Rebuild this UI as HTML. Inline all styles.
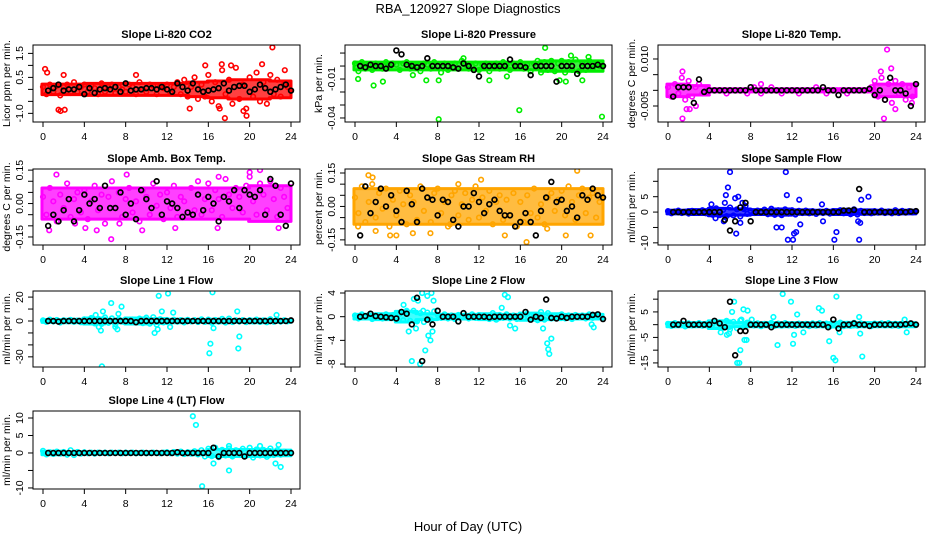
<!DOCTYPE html>
<html><head><meta charset="utf-8"><style>
body{margin:0;background:#fff;}
svg{display:block;font-family:"Liberation Sans",sans-serif;}
</style></head><body>
<svg id="c" width="936" height="540" viewBox="0 0 936 540">
<text x="468" y="13" text-anchor="middle" font-size="13">RBA_120927  Slope Diagnostics</text>
<text x="468" y="531" text-anchor="middle" font-size="13">Hour of Day (UTC)</text>
</svg>
<script>
const xTicks=[0,4,8,12,16,20,24];
const titles=["Slope Li-820 CO2","Slope Li-820 Pressure","Slope Li-820 Temp.","Slope Amb. Box Temp.","Slope Gas Stream RH","Slope Sample Flow","Slope Line 1 Flow","Slope Line 2 Flow","Slope Line 3 Flow","Slope Line 4 (LT) Flow"];
const yTitles=["Licor ppm per min.","kPa per min.","degrees C per min.","degrees C per min.","percent per min.","ml/min per min.","ml/min per min.","ml/min per min.","ml/min per min.","ml/min per min."];
const yTicks1=[-1.0,-0.5,0,0.5,1.0,1.5]; const yLabels1=["-1.0","","","0.5","","1.5"];
const yTicks2=[0.01,0,-0.01,-0.02,-0.03,-0.04]; const yLabels2=["","","-0.01","","","-0.04"];
const yTicks3=[0.010,0.005,0,-0.005]; const yLabels3=["0.010","","","-0.005"];
const yTicks4=[0.15,0.10,0.05,0,-0.05,-0.10,-0.15]; const yLabels4=["0.15","","","0.00","","","-0.15"];
const yTicks5=[0.15,0.10,0.05,0,-0.05,-0.10,-0.15]; const yLabels5=["0.15","","","0.00","","","-0.15"];
const yTicks6=[10,5,0,-5,-10]; const yLabels6=["","5","0","","-10"];
const yTicks7=[20,10,0,-10,-20,-30]; const yLabels7=["20","","0","","","-30"];
const yTicks8=[4,0,-4,-8]; const yLabels8=["4","0","-4","-8"];
const yTicks9=[10,5,0,-5,-10,-15]; const yLabels9=["","5","","-5","","-15"];
const yTicks10=[10,5,0,-5,-10]; const yLabels10=["10","5","0","","-10"];
const yLims=[[-1.36,1.85],[-0.0431,0.0162],[-0.0101,0.01446],[-0.186,0.155],[-0.173,0.168],[-10.7,14],[-38.5,25.1],[-8.5,4.34],[-16.6,13.2],[-10.3,12]];
const colors=["#ff0000","#00ee00","#ff00ff","#ff00ff","#ffa500","#0000ff","#00ffff","#00ffff","#00ffff","#00ffff"];

const band1=[0.22,0.22,0.25,0.25,0.25,0.25,0.25,0.3,0.35,0.4,0.4,0.35];
const band2=[0.003,0.003,0.003,0.003,0.003,0.003,0.003,0.003,0.003,0.004,0.004,0.004];
const band3=[0.002,0.0015,0.0005,0.0005,0.0005,0.0005,0.0005,0.0005,0.0005,0.0005,0.002,0.002];
const band4=[0.07,0.07,0.07,0.07,0.07,0.07,0.07,0.07,0.07,0.07,0.08,0.08];
const band5=[0.08,0.08,0.08,0.08,0.08,0.08,0.08,0.08,0.08,0.08,0.08,0.08];
const band6=[0.6,0.8,1.2,1.0,0.8,1.0,0.7,0.6,0.8,0.7,0.6,0.6];
const band7=[1.2,1.5,2.5,1.5,2.5,2.0,1.5,1.2,1.5,1.2,1.5,1.2];
const band8=[0.4,0.5,0.9,0.5,0.4,0.4,0.5,0.4,0.6,0.5,0.4,0.4];
const band9=[0.8,0.8,1.5,0.8,0.8,0.8,0.8,0.8,0.9,0.8,0.8,0.8];
const band10=[0.5,0.4,0.3,0.3,0.3,0.3,0.3,0.5,1.0,1.0,1.0,0.8];

const col1=[0.1,-0.2,0.2,-0.1,0.15,-0.25,0.1,0.2,-0.15,0.3,-0.1,0.1,0.2,-0.1,0.15,0.05,-0.2,0.25,-0.1,0.1,0.2,-0.15,0.1,0.0,-0.1,0.2,0.1,-0.2,0.3,0.0,-0.1,0.2,0.15,-0.2,0.1,0.05,0.2,-0.15,0.1,0.3,-0.2,0.4,-0.3,0.1,0.5,-0.4,0.2,-0.3,0.6,-0.5,0.3,-0.7,0.8,-0.2,0.4,-0.6,0.9,-0.4,0.2,-0.8,0.5,-0.3,0.7,-0.5,0.3,-0.6,0.6,-0.2,0.4,-0.3,0.2,0.1];
const out1=[[0.2,0.85],[0.4,0.7],[1.5,-0.85],[1.7,-0.9],[2.1,-0.85],[2.0,0.6],[9,0.6],[14.2,-0.8],[15.7,1.0],[17.3,1.05],[17.6,-1.2],[18.2,1.0],[19.7,-1.1],[21.2,1.05],[22.2,1.75],[23.4,0.8],[17.1,-0.8],[19.4,-0.9]];
const blk1=[-0.05,0.05,0.2,-0.05,0,0,0.1,-0.2,0.05,-0.15,0,0.05,0,0.1,-0.1,0.25,-0.05,0,0,0.05,0.05,0,0.1,0,-0.1,0.25,0.1,-0.05,0.25,0,-0.1,-0.05,0,0.05,0.25,-0.05,0.1,0.15,0.15,-0.1,0,0.2,0.05,-0.1,0,0.1,0.2,-0.05];

const col2=[0.002,-0.004,0.003,-0.002,0.001,-0.003,0.002,0.000,-0.002,0.003,-0.001,0.002,0.001,-0.003,0.002,0.003,-0.002,0.001,0.000,-0.004,0.002,0.001,-0.002,0.003,0.000,-0.005,0.002,-0.003,0.001,0.002,-0.002,0.004,0.001,-0.002,0.000,0.002,-0.003,0.001,0.002,-0.004,0.000,0.002,-0.002,0.003,0.001,-0.003,0.002,0.000,0.003,-0.002,0.001,-0.004,0.002,0.004,-0.005,0.003,-0.003,0.004,-0.004,0.002,0.004,-0.005,0.003,-0.003,0.005,-0.004,0.002,-0.003,0.004,-0.002,0.001,0.000];
const out2=[[1.8,-0.015],[2.7,-0.012],[8.1,-0.041],[8.1,-0.011],[15.9,-0.034],[18.4,0.014],[23.9,-0.039],[6.9,-0.011],[20.9,0.008],[22.6,0.007],[0.3,-0.01],[10.5,0.006],[19.8,-0.011],[20.4,-0.012],[22.0,-0.011],[13.0,-0.011],[14.7,-0.008],[5.6,-0.007]];
const blk2=[0.000,-0.001,0.001,0.000,0.000,-0.002,0.001,0.012,0.009,0.001,0.000,-0.001,0.000,0.006,0.000,0.000,0.000,0.000,-0.001,-0.002,0.002,0.000,-0.003,-0.008,0.000,0.000,0.000,0.000,0.000,0.005,0.000,0.000,-0.001,-0.007,0.000,0.000,0.000,0.000,-0.012,0.000,0.000,0.000,-0.006,0.000,0.000,0.000,0.001,0.000];

const col3=[0.001,-0.002,0.002,-0.001,0.004,-0.003,0.003,-0.002,0.001,0.002,-0.001,0.000,0,0,0,0,0,-0.001,0,0,0,0,0,-0.001,0,0.001,0,-0.001,0,0,0.001,0,0,-0.001,0,0,0,0,-0.001,0,0,0,0,0.001,0,0,-0.001,0,0,0,0,0,-0.001,0,0,0,0,0,0,0.001,0.003,-0.002,0.004,-0.003,0.002,-0.004,0.003,-0.001,0.002,-0.003,0.001,-0.002];
const out3=[[1.4,0.006],[1.4,-0.009],[1.8,-0.006],[2.1,-0.006],[2.7,-0.005],[20.9,-0.009],[21.2,0.013],[21.6,0.007],[20.6,0.006],[22.0,-0.006],[23.6,-0.004],[9.0,0.002]];
const blk3=[-0.002,0.001,0.001,0.001,-0.004,0.0035,-0.0005,0,0,0,0,0,0,0,0,0.001,0,0,0,0,0,0,0,0,0,0,0,0,0,0.001,0,0,-0.0015,0,0,0,0,0,0.0005,-0.0015,0,-0.003,0.004,0,0,-0.001,-0.005,0.002];

const col4=[0.03,-0.05,0.07,0.01,-0.08,0.04,-0.02,0.09,-0.06,0.02,0.05,-0.04,0.06,-0.07,0.01,0.08,-0.03,0.04,-0.09,0.03,0.10,-0.02,0.05,-0.06,0.02,0.07,-0.04,0.01,-0.08,0.06,0.03,-0.05,0.09,-0.01,0.04,-0.07,0.05,-0.02,0.08,-0.06,0.03,0.01,-0.04,0.07,-0.03,0.10,-0.05,0.02,0.09,-0.03,0.06,0.02,-0.06,0.11,0.04,-0.02,0.07,0.03,-0.04,0.08,0.12,0.01,-0.05,0.09,0.04,-0.03,0.10,0.02,-0.06,0.07,0.03,-0.02];
const out4=[[1.3,0.13],[0.6,-0.12],[6.6,-0.16],[5.2,-0.12],[8.1,0.13],[9.6,-0.12],[12.8,-0.11],[17,0.12],[16.9,-0.11],[20,0.14],[21,0.15],[22.8,-0.11],[3.1,-0.09],[4.1,-0.11],[7.4,-0.09]];
const blk4=[-0.1,-0.05,-0.08,-0.03,0.02,-0.08,-0.03,0.04,0.0,0.02,-0.02,0.08,-0.02,-0.02,0.05,-0.05,0.0,-0.07,0.06,0.02,-0.02,0.1,-0.05,0.01,0.0,-0.02,-0.06,-0.04,-0.05,0.04,-0.03,0.03,0.0,-0.08,0.03,0.01,0.06,-0.02,0.06,0.04,0.03,0.06,-0.05,0.11,0.08,-0.05,-0.1,0.09];

const col5=[0.04,-0.03,0.09,-0.07,0.02,0.10,-0.05,0.06,-0.01,0.08,-0.09,0.03,-0.04,0.07,0.01,-0.08,0.05,0.02,-0.06,0.09,-0.02,0.04,-0.07,0.06,0.08,-0.03,0.02,-0.09,0.05,0.07,-0.04,0.01,0.06,-0.06,0.03,0.09,-0.05,0.04,-0.02,0.07,-0.08,0.02,0.05,-0.06,0.03,-0.04,0.06,-0.09,0.02,-0.07,0.05,-0.03,0.08,-0.05,0.01,-0.08,0.04,0.06,-0.02,0.03,0.07,-0.04,0.09,0.02,-0.06,0.05,0.08,-0.03,0.04,0.06,-0.05,0.02];
const out5=[[1.3,0.14],[1.7,0.13],[0.3,-0.09],[2.0,-0.11],[3.4,-0.13],[4.0,-0.13],[7.3,-0.12],[5.6,-0.12],[10,0.1],[12.2,0.12],[14.5,-0.13],[16.6,-0.16],[21.5,0.16],[20.4,-0.13],[22.8,-0.13],[9.2,-0.08],[18.6,-0.1]];
const blk5=[-0.13,0.09,-0.03,0.02,0.08,0.0,0.05,-0.02,-0.07,0.07,0.01,-0.07,0.08,0.04,0.03,-0.04,0.03,0.02,-0.06,-0.09,0.0,0.0,0.06,0.02,-0.03,0.01,0.03,-0.02,-0.04,-0.04,-0.09,-0.07,-0.03,-0.07,-0.13,-0.02,0.04,0.11,0.02,0.03,-0.02,0.0,-0.05,0.05,0.03,0.08,0.05,0.04];

const col6=[0.3,-0.4,0.2,0.5,-0.3,0.1,-0.5,0.4,0.2,-0.2,0.6,-0.4,0.8,-0.9,1.2,-1.0,0.7,-1.3,1.5,-1.1,0.9,-1.4,1.0,-0.6,0.4,-0.3,0.5,-0.2,0.8,-0.7,1.1,-0.9,0.6,-1.0,0.9,-0.5,0.6,-0.8,0.4,-0.3,0.5,-0.4,0.3,-0.6,0.2,-0.3,0.4,-0.5,0.3,-0.2,0.6,-0.4,0.5,-0.7,0.9,-0.8,0.4,-0.3,0.2,-0.4,0.3,-0.2,0.5,-0.3,0.2,-0.4,0.6,-0.3,0.4,-0.2,0.3,-0.1];
const out6=[[5.5,3],[5.6,5.5],[5.8,8],[6.0,13],[6.5,4.5],[6.8,5],[7.2,3],[7.5,2],[5.4,-3],[7.0,-3.5],[6.6,-7],[11.4,13],[11.5,5.5],[12.7,4],[12.8,-4],[10.5,-5],[11.0,-5],[11.6,-9],[12.1,-9],[12.2,-7],[12.4,-6.5],[16.1,-9],[16.3,-6.5],[14.9,2.5],[15.0,-3],[18.5,-9],[18.7,4],[19.4,5],[18.4,-3],[18.6,-3.5],[4.2,2.5],[4.6,-2]];
const blk6=[0,0,0,0,0,0,0,0,0,0,-2.5,-6,-3,1.5,3,-3,0,0,0,0,0,0,0,0,0,0,0,0,0,0,0,0,0,0.5,0.5,0.7,7.5,0,0,0,0,0,0,0,0,0,0.2,0.3];

const col7=[0.5,-0.8,1.2,-0.4,0.9,-1.3,0.6,-0.2,1.0,-0.7,0.3,-1.1,1.4,-0.9,2.5,-2.0,1.8,-2.5,3.0,-1.5,2.2,-2.8,1.5,-0.6,0.8,-1.0,1.3,-0.5,2.0,-1.8,2.8,-2.2,3.2,-3.0,1.5,-1.2,0.9,-0.7,1.1,-0.6,0.8,-1.2,1.0,-0.4,0.7,-0.9,1.4,-0.8,1.2,-1.5,0.9,-0.6,1.8,-1.3,2.0,-0.9,0.6,-0.5,0.8,-1.0,0.7,-0.4,1.2,-0.8,0.5,-1.1,1.5,-0.7,0.9,-0.5,0.6,-0.3];
const out7=[[5.1,5],[5.6,-8],[5.7,-38],[6.6,15],[7.0,-5],[7.3,6],[7.6,12],[7.2,-7],[5.4,-5],[5.8,8],[10.8,-10],[11.2,21],[11.5,8],[12.1,23],[12.6,7],[11.1,-7],[12.3,-5],[16.1,-27],[16.2,-19],[16.4,24],[16.5,-6],[18.8,8],[18.9,-23],[19.0,-13],[22.6,5]];
const blk7=[0,0,-0.5,0,0,0,0,0,0,0,0,0,0,0,0,0,0,-1,0,0,0,0,0,0,0,0,0,0,0,0,0,0,0,0,0,0,0,0,0,0,0,0,0,0,0,0,0,0.5];

const col8=[0.2,-0.3,0.4,-0.1,0.3,-0.4,0.2,0.1,-0.3,0.4,-0.2,0.3,-0.1,0.5,-0.6,0.8,-0.7,1.0,-0.8,0.6,-0.9,0.7,-0.5,0.9,0.3,-0.2,0.4,-0.3,0.2,-0.4,0.3,-0.1,0.2,-0.3,0.4,-0.2,0.3,-0.1,0.2,-0.4,0.6,-0.5,0.3,-0.2,0.4,-0.3,0.2,-0.4,0.3,-0.2,0.5,-0.4,0.3,-0.6,0.8,-0.5,0.6,-0.3,0.2,-0.2,0.4,-0.3,0.2,-0.4,0.3,-0.1,0.2,-0.3,0.4,-0.2,0.3,-0.1];
const out8=[[4.7,2],[5.0,1],[5.2,-2.5],[5.5,-7.5],[5.7,3],[5.9,-2],[6.1,2.7],[6.3,-8],[6.5,4],[6.6,1],[6.8,-5.7],[7.0,3.5],[7.1,-3.2],[7.3,-4],[7.4,4],[7.5,-2.5],[7.6,2.7],[14.5,3.7],[14.8,3.3],[14.2,1.5],[15,-1.5],[15.5,-2],[18.2,-2],[18.6,-4.5],[18.7,-5.5],[18.8,-6.3],[19,-3.7],[22.9,-1.3],[23.1,-1.8]];
const blk8=[0,0.1,0.5,0.1,0,-0.1,-0.2,-0.3,0.8,0.5,-1.3,3.2,-7.5,-0.5,-1.3,1,0,0,0,-0.8,0.6,0,0,0,0,-0.1,0,0,0,0,0,0,0.8,-0.5,0,-0.2,2.9,-0.2,-0.3,0,-0.2,0,0,0,0,0.3,0.4,-0.4];

const col9=[0.3,-0.5,0.6,-0.2,0.4,-0.7,0.5,-0.3,0.2,0.6,-0.4,0.3,-0.2,0.5,-0.6,0.9,-1.2,1.5,-1.8,1.1,-1.4,1.6,-0.9,0.8,0.4,-0.3,0.5,-0.6,0.3,-0.2,0.7,-0.5,0.4,-0.4,0.6,-0.3,0.2,-0.5,0.4,-0.2,0.3,-0.6,0.5,-0.4,0.6,-0.3,0.4,-0.7,0.5,-0.4,0.8,-0.6,0.3,-0.5,0.7,-0.4,0.5,-0.3,0.2,-0.6,0.4,-0.2,0.5,-0.3,0.6,-0.4,0.3,-0.5,0.4,-0.2,0.3,-0.1];
const out9=[[5.1,-3],[5.7,-4],[5.9,-3.5],[6.2,5],[6.4,9],[6.7,-15],[6.9,-15],[7.0,-10],[7.1,2],[7.3,6],[7.4,-6],[7.6,-6],[7.7,5.5],[8.1,2],[10.6,-8],[10.2,3],[11.1,12],[11.9,9],[12.2,-4],[12.5,4],[12.1,-7.5],[13.1,-3],[14.6,6.5],[14.9,5.5],[15.6,-6.5],[16.0,-13],[16.2,-14],[16.3,11],[16.6,-3],[18.5,3],[18.6,-3.5],[18.8,-12.5],[22.9,2],[23.1,-3]];
const blk9=[0,0,1.5,0,0,0,0,0,1.5,0.5,-1,9,-12,-2.5,-2.5,0,0,0,0,-1,0,0,0,0,0,0,0,0,0,0,-1,2,-1.5,0,0,0.5,0,0,-0.5,0,0,0,0,0,0,0.2,0.5,0];

const col10=[0.6,-0.4,0.2,-0.3,0.4,-0.2,0.3,-0.5,0.8,-0.6,0.3,-0.2,0.2,-0.1,0.1,-0.2,0.1,0,0.1,-0.1,0.1,0,0.1,-0.1,0.1,0,0.1,-0.1,0,0.1,-0.1,0,0.1,0,-0.1,0.1,0.2,-0.1,0.3,-0.2,0.4,-0.3,0.2,-0.2,0.5,-0.4,0.8,-1.0,1.2,-0.9,1.5,-1.2,0.9,-0.7,1.3,-1.0,0.8,-0.6,1.2,-0.8,1.5,-1.3,1.0,-0.7,0.9,-1.1,1.3,-0.6,0.8,-0.5,0.4,-0.2];
const out10=[[14.5,10.5],[14.8,8],[15.4,-9.5],[16.5,-3],[18,-5],[18,2],[22.5,-3],[23,-4],[22.8,2.3],[21,2]];
const blk10=[0,0,0,0,0,0,0,0,0,0,0,0,0,0,0,0,0,0,0,0,0,0,0,0,0,0.2,0,0,0,0,0,0,1.5,-1,0,0,0,0,-1,0,0,0,0,0,0,0,0,0];

const colored=[col1,col2,col3,col4,col5,col6,col7,col8,col9,col10];
const outliers=[out1,out2,out3,out4,out5,out6,out7,out8,out9,out10];
const blacks=[blk1,blk2,blk3,blk4,blk5,blk6,blk7,blk8,blk9,blk10];
const bands=[band1,band2,band3,band4,band5,band6,band7,band8,band9,band10];
const yTickSets=[yTicks1,yTicks2,yTicks3,yTicks4,yTicks5,yTicks6,yTicks7,yTicks8,yTicks9,yTicks10];
const yLabelSets=[yLabels1,yLabels2,yLabels3,yLabels4,yLabels5,yLabels6,yLabels7,yLabels8,yLabels9,yLabels10];

const colX=[[33,300],[345,612],[658,925]];
const rowY=[[45,122],[169,245],[291,367],[411,489]];
const NS="http://www.w3.org/2000/svg";
const svg=document.getElementById('c');
function mk(tag,attrs,parent){const e=document.createElementNS(NS,tag);for(const k in attrs)e.setAttribute(k,attrs[k]);(parent||svg).appendChild(e);return e;}

for(let p=0;p<10;p++){
  const ci=p%3, ri=Math.floor(p/3);
  const [x0,x1]=colX[ci],[y0,y1]=rowY[ri];
  const g=mk('g',{});
  
  
  const xs=h=>x0+10+h*(x1-x0-19)/24;
  const [ymin,ymax]=yLims[p];
  const ys=v=>y0+(ymax-v)/(ymax-ymin)*(y1-y0);
  const clip=mk('clipPath',{id:'cl'+p},g);
  mk('rect',{x:x0,y:y0,width:x1-x0,height:y1-y0},clip);
  const pts=mk('g',{'clip-path':'url(#cl'+p+')'},g);
  
  
  const colr=colors[p];
  const bd=bands[p];
  const top=[],bot=[];
  bd.forEach((w,i)=>{
    const h0=i*2-0.1,h1=i*2+2;
    top.push(xs(h0)+','+ys(w),xs(h1)+','+ys(w));
    bot.push(xs(h0)+','+ys(-w),xs(h1)+','+ys(-w));
  });
  bot.reverse();
  const env=mk('polygon',{points:top.concat(bot).join(' '),fill:colr,'fill-opacity':0.75,stroke:colr,'stroke-width':3,'stroke-linejoin':'round'},pts);
  
  
  colored[p].forEach((v,i)=>{
    const c=mk('circle',{cx:xs(i/3),cy:ys(v),r:2.3,fill:'none',stroke:colr,'stroke-width':1.6},pts);
    
    
  });
  outliers[p].forEach(d=>{
    const c=mk('circle',{cx:xs(d[0]),cy:ys(d[1]),r:2.3,fill:'none',stroke:colr,'stroke-width':1.6},pts);
    
    
  });
  blacks[p].forEach((v,i)=>{
    const c=mk('circle',{cx:xs(0.5*(i+1)),cy:ys(v),r:2.4,fill:'none',stroke:'#000','stroke-width':1.7},pts);
    
    
  });
  const box=mk('rect',{x:x0,y:y0,width:x1-x0,height:y1-y0,fill:'none',stroke:'#000','stroke-width':1},g);
  
  
  const t=mk('text',{x:(x0+x1)/2,y:y0-7,'text-anchor':'middle','font-size':11,'font-weight':'bold'},g);
  t.textContent=titles[p];
  
  
  xTicks.forEach(h=>{
    mk('line',{x1:xs(h),x2:xs(h),y1:y1,y2:y1+5,stroke:'#000'},g);
    const tx=mk('text',{x:xs(h),y:y1+18,'text-anchor':'middle','font-size':10.5},g);
    tx.textContent=h;
    
    
  });
  yTickSets[p].forEach((v,i)=>{
    const y=ys(v);
    mk('line',{x1:x0-5,x2:x0,y1:y,y2:y,stroke:'#000'},g);
    const lab=yLabelSets[p][i];
    if(lab){
      const ty=mk('text',{x:0,y:0,'text-anchor':'middle','font-size':10.5,transform:`translate(${x0-10},${y}) rotate(-90)`},g);
      ty.textContent=lab;
      
      
    }
  });
  const yt=mk('text',{x:0,y:0,'text-anchor':'middle','font-size':10.5,transform:`translate(${x0-23},${(y0+y1)/2}) rotate(-90)`},g);
  yt.textContent=yTitles[p];
  
  
}
</script>
</body></html>
